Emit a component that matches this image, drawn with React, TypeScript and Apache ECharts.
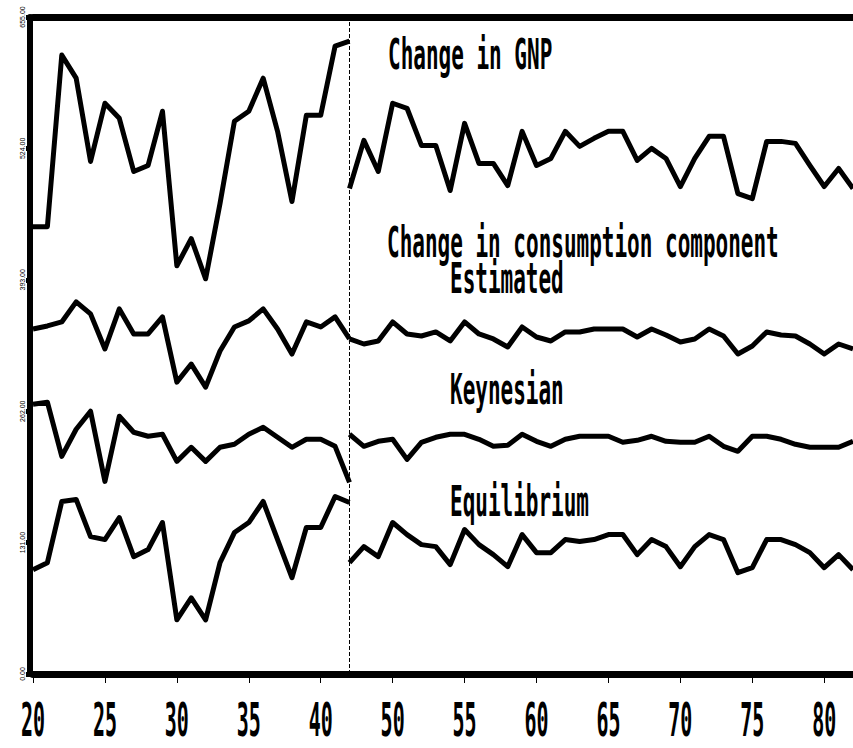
import React, { useEffect, useRef } from "react";
import * as echarts from "echarts";

// Years shown (the war years 1943-1946 are cut out of the axis)
const PRE_YEARS = [1920, 1921, 1922, 1923, 1924, 1925, 1926, 1927, 1928, 1929, 1930, 1931, 1932, 1933, 1934, 1935, 1936, 1937, 1938, 1939, 1940, 1941, 1942];
const POST_YEARS = [1947, 1948, 1949, 1950, 1951, 1952, 1953, 1954, 1955, 1956, 1957, 1958, 1959, 1960, 1961, 1962, 1963, 1964, 1965, 1966, 1967, 1968, 1969, 1970, 1971, 1972, 1973, 1974, 1975, 1976, 1977, 1978, 1979, 1980, 1981, 1982];

const X_TICK_LABELS = ["20", "25", "30", "35", "40", "50", "55", "60", "65", "70", "75", "80"];

// Change in GNP
const GNP_PRE = [446, 446, 617, 594, 511, 569, 554, 501, 507, 561, 407, 434, 394, 469, 551, 561, 594, 541, 471, 557, 557, 626, 631];
const GNP_POST = [484, 532, 501, 569, 564, 527, 527, 482, 549, 509, 509, 487, 541, 507, 514, 541, 526, 534, 541, 541, 512, 524, 514, 486, 514, 536, 536, 479, 474, 531, 531, 529, 507, 486, 504, 484];

// Change in consumption component: Estimated
const EST_PRE = [344, 347, 351, 371, 359, 324, 364, 339, 339, 356, 291, 309, 286, 322, 346, 352, 364, 344, 319, 351, 346, 356, 334];
const EST_POST = [334, 329, 332, 351, 339, 337, 341, 332, 351, 339, 334, 326, 346, 336, 332, 341, 341, 344, 344, 344, 336, 344, 338, 331, 334, 344, 337, 319, 327, 341, 338, 337, 329, 319, 329, 324];

// Keynesian
const KEY_PRE = [269, 271, 217, 244, 262, 192, 257, 241, 237, 239, 212, 226, 212, 226, 229, 239, 246, 236, 226, 234, 234, 227, 191];
const KEY_POST = [239, 227, 232, 234, 214, 231, 236, 239, 239, 234, 227, 228, 239, 232, 227, 234, 237, 237, 237, 231, 233, 237, 232, 231, 231, 237, 227, 222, 237, 237, 234, 229, 226, 226, 226, 232];

// Equilibrium
const EQU_PRE = [104, 111, 172, 174, 137, 134, 156, 117, 124, 151, 54, 76, 54, 111, 141, 151, 172, 134, 96, 146, 146, 177, 171];
const EQU_POST = [111, 127, 117, 151, 139, 129, 127, 109, 144, 129, 119, 107, 139, 121, 121, 134, 132, 134, 139, 139, 119, 134, 127, 107, 127, 139, 134, 101, 106, 134, 134, 129, 121, 106, 119, 104];

const BREAK_X = 42;
const X_MIN = 20;
const X_STEP = 5;
const toAxisX = (year: number) => (year <= 1942 ? year - 1900 : year - 1905);

function buildData(pre: number[], post: number[]) {
  return [
    ...PRE_YEARS.map((yr, i) => [toAxisX(yr), pre[i]]),
    [BREAK_X, "-"],
    ...POST_YEARS.map((yr, i) => [toAxisX(yr), post[i]]),
  ];
}

const TEXT_FONT = 'bold 21px "DejaVu Sans Mono", "Liberation Mono", monospace';
const TICK_FONT = 'bold 20px "DejaVu Sans Mono", "Liberation Mono", monospace';

function label(text: string, x: number, y: number) {
  return {
    type: "text",
    x,
    y,
    scaleY: 2,
    silent: true,
    style: {
      text,
      font: TEXT_FONT,
      fill: "#000",
      align: "left",
      verticalAlign: "middle",
      textAlign: "left",
      textVerticalAlign: "middle",
    },
  };
}

export default function App() {
  const ref = useRef<HTMLDivElement>(null);
  useEffect(() => {
    if (!ref.current) return;
    const chart = echarts.init(ref.current, undefined, { renderer: "svg" });
    const lineStyle = { color: "#000", width: 5, join: "round" as const };
    const mk = (name: string, pre: number[], post: number[]) => ({
      name,
      type: "line",
      data: buildData(pre, post),
      symbol: "none",
      connectNulls: false,
      lineStyle,
      silent: true,
    });
    chart.setOption({
      animation: false,
      backgroundColor: "#fff",
      grid: { left: 33, right: 0, top: 17, bottom: 74, containLabel: false },
      xAxis: [
        {
          type: "value",
          min: X_MIN,
          max: 77,
          interval: X_STEP,
          offset: 3,
          axisLine: { show: true, lineStyle: { color: "#000", width: 7 } },
          axisTick: { show: true, length: 9, lineStyle: { color: "#000", width: 1 } },
          axisLabel: { show: false },
          splitLine: { show: false },
        },
        {
          type: "value",
          position: "top",
          min: X_MIN,
          max: 77,
          interval: X_STEP,
          axisLine: { show: true, lineStyle: { color: "#000", width: 7 } },
          axisTick: { show: false },
          axisLabel: { show: false },
          splitLine: { show: false },
        },
      ],
      yAxis: {
        type: "value",
        min: 0,
        max: 655,
        interval: 131,
        offset: 3,
        axisLine: { show: true, lineStyle: { color: "#000", width: 6 } },
        axisTick: { show: true, length: 4, lineStyle: { color: "#000", width: 5 } },
        axisLabel: {
          show: true,
          rotate: 90,
          margin: 4,
          fontSize: 7,
          color: "#000",
          formatter: (v: number) => v.toFixed(2),
        },
        splitLine: { show: false },
      },
      series: [
        {
          ...mk("Change in GNP", GNP_PRE, GNP_POST),
          markLine: {
            silent: true,
            symbol: ["none", "none"],
            label: { show: false },
            lineStyle: { color: "#000", width: 1, type: [4, 2] },
            data: [{ xAxis: BREAK_X }],
          },
        },
        mk("Estimated", EST_PRE, EST_POST),
        mk("Keynesian", KEY_PRE, KEY_POST),
        mk("Equilibrium", EQU_PRE, EQU_POST),
      ],
    });

    // Tick labels of the year axis, placed through the axis scale, drawn tall and narrow
    const tickTexts = X_TICK_LABELS.map((t, i) => {
      const px = chart.convertToPixel({ xAxisIndex: 0 }, X_MIN + i * X_STEP) as number;
      return {
        type: "text",
        x: px,
        y: 720,
        scaleY: 2.35,
        silent: true,
        style: {
          text: t,
          font: TICK_FONT,
          fill: "#000",
          align: "center",
          verticalAlign: "middle",
          textAlign: "center",
          textVerticalAlign: "middle",
        },
      };
    });

    chart.setOption({
      graphic: [
        label("Change in GNP", 388, 54),
        label("Change in consumption component", 387, 242),
        label("Estimated", 450, 278),
        label("Keynesian", 450, 389),
        label("Equilibrium", 450, 501),
        ...tickTexts,
      ],
    });
    return () => chart.dispose();
  }, []);
  return (
    <div
      ref={ref}
      style={{ position: "absolute", left: 0, top: 0, width: 853, height: 748, background: "#fff" }}
    />
  );
}
